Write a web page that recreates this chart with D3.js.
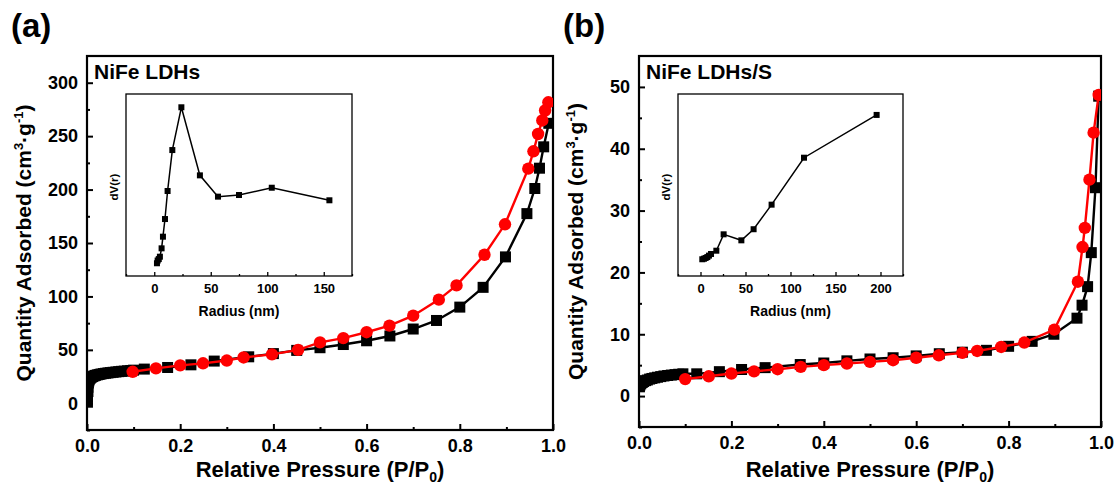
<!DOCTYPE html>
<html>
<head>
<meta charset="utf-8">
<script src="https://cdnjs.cloudflare.com/ajax/libs/d3/7.8.5/d3.min.js"></script>
<style>
  html, body { margin: 0; padding: 0; background: #fff; }
  svg text { font-family: "Liberation Sans", Arial, sans-serif; font-weight: bold; fill: #000; }
</style>
</head>
<body>
<svg id="chart" width="1120" height="486"></svg>
<script>
// ---- data ----
// panel (a) NiFe LDHs, adsorption (black squares)
const aAdsP = [0.001, 0.001, 0.002, 0.002, 0.003, 0.004, 0.005, 0.007, 0.009, 0.012, 0.015, 0.018, 0.022, 0.026, 0.03, 0.035, 0.04, 0.045, 0.05, 0.056, 0.062, 0.068, 0.074, 0.08, 0.087, 0.094, 0.1,
  0.123, 0.173, 0.223, 0.273, 0.347, 0.4, 0.45, 0.5, 0.55, 0.6, 0.65, 0.7, 0.75, 0.8, 0.85, 0.898, 0.944, 0.961, 0.971, 0.98, 0.991];
const aAdsQ = [1, 6, 11, 15, 19, 21, 22.5, 23.5, 24.3, 25, 25.6, 26.1, 26.6, 27, 27.4, 27.8, 28.1, 28.4, 28.7, 29, 29.3, 29.6, 29.9, 30.1, 30.4, 30.7, 31,
  32, 33.5, 36, 39.5, 43.5, 46.5, 49.5, 52, 55, 58.5, 63, 69.5, 77.5, 90, 108.5, 137, 177.5, 201, 220, 240, 262];
// panel (a) desorption (red circles)
const aDesP = [0.098, 0.148, 0.2, 0.249, 0.3, 0.336, 0.397, 0.453, 0.5, 0.55, 0.6, 0.649, 0.7, 0.755, 0.793, 0.853, 0.897, 0.947, 0.958, 0.968, 0.977, 0.983, 0.99];
const aDesQ = [29.5, 32.7, 35.5, 37.4, 40, 42.9, 45.8, 50, 57, 61, 66.5, 72.7, 82, 97, 110.3, 139, 167.5, 219.6, 235.8, 252, 264.7, 274, 281.7];
// panel (a) inset: pore size distribution (arbitrary units)
const aInR = [2.4, 3, 4, 5, 6.5, 7.7, 9.5, 11.8, 16, 24, 40.4, 56.4, 75, 104, 155];
const aInV = [0.07, 0.085, 0.093, 0.106, 0.152, 0.216, 0.313, 0.467, 0.692, 0.927, 0.553, 0.436, 0.445, 0.485, 0.416];

// panel (b) NiFe LDHs/S, adsorption
const bAdsP = [0.001, 0.002, 0.004, 0.007, 0.01, 0.014, 0.018, 0.023, 0.028, 0.034, 0.04, 0.047, 0.054, 0.062, 0.07, 0.078, 0.086, 0.095,
  0.125, 0.174, 0.222, 0.273, 0.349, 0.4, 0.45, 0.5, 0.55, 0.6, 0.65, 0.7, 0.752, 0.8, 0.851, 0.898, 0.948, 0.959, 0.971, 0.979, 0.988, 0.995];
const bAdsQ = [1.5, 1.8, 2.0, 2.2, 2.35, 2.5, 2.6, 2.75, 2.85, 2.95, 3.05, 3.15, 3.25, 3.33, 3.4, 3.47, 3.53, 3.6,
  3.6, 3.95, 4.3, 4.6, 5.1, 5.35, 5.7, 6.0, 6.2, 6.5, 6.85, 7.1, 7.4, 8.05, 8.85, 10.0, 12.6, 14.7, 17.7, 23.2, 33.7, 48.5];
// panel (b) desorption
const bDesP = [0.1, 0.151, 0.2, 0.249, 0.3, 0.35, 0.4, 0.45, 0.5, 0.55, 0.6, 0.649, 0.7, 0.732, 0.784, 0.834, 0.899, 0.95, 0.96, 0.965, 0.975, 0.984, 0.995];
const bDesQ = [2.75, 3.2, 3.65, 4.0, 4.35, 4.73, 5.0, 5.27, 5.53, 5.8, 6.2, 6.6, 6.99, 7.3, 7.95, 8.66, 10.75, 18.5, 24.1, 27.2, 35, 42.6, 48.7];
// panel (b) inset
const bInR = [2, 3.9, 5.7, 7.6, 9.4, 11.7, 17.6, 25.7, 45.4, 59, 79, 115, 195.7];
const bInV = [0.092, 0.095, 0.099, 0.104, 0.112, 0.121, 0.139, 0.229, 0.196, 0.257, 0.392, 0.65, 0.885];

// ticks
const pTicks = [0, 0.2, 0.4, 0.6, 0.8, 1.0];
const pMinor = [0.1, 0.3, 0.5, 0.7, 0.9];
const aQTicks = [0, 50, 100, 150, 200, 250, 300];
const aQMinor = [-25, 25, 75, 125, 175, 225, 275];
const bQTicks = [0, 10, 20, 30, 40, 50];
const bQMinor = [-5, 5, 15, 25, 35, 45];
const aRTicks = [0, 50, 100, 150];
const aRMinor = [-25, 25, 75, 125, 175];
const bRTicks = [0, 50, 100, 150, 200];
const bRMinor = [-25, 25, 75, 125, 175, 225];

const svg = d3.select("#chart");
svg.append("rect").attr("width", 1120).attr("height", 486).attr("fill", "#fff");

function zip(xs, ys) { return xs.map((x, i) => ({ x: x, y: ys[i] })); }

function drawPanel(o) {
  const g = svg.append("g");
  const x = d3.scaleLinear().domain([0, 1]).range([o.x0, o.x1]);
  const y = d3.scaleLinear().domain(o.yDom).range([o.y1, o.y0]);

  // axes (inward ticks)
  g.append("g").attr("transform", `translate(0,${o.y1})`)
    .call(d3.axisBottom(x).tickValues(pTicks).tickSize(-6).tickPadding(9).tickFormat(d3.format(".1f")))
    .call(a => a.selectAll("text").attr("font-size", 18).attr("font-family", null))
    .call(a => a.select(".domain").remove());
  g.append("g").attr("transform", `translate(0,${o.y1})`)
    .call(d3.axisBottom(x).tickValues(pMinor).tickSize(-3).tickFormat(""))
    .call(a => a.select(".domain").remove());
  g.append("g").attr("transform", `translate(${o.x0},0)`)
    .call(d3.axisLeft(y).tickValues(o.yTicks).tickSize(-6).tickPadding(9))
    .call(a => a.selectAll("text").attr("font-size", 18).attr("font-family", null))
    .call(a => a.select(".domain").remove());
  g.append("g").attr("transform", `translate(${o.x0},0)`)
    .call(d3.axisLeft(y).tickValues(o.yMinor).tickSize(-3).tickFormat(""))
    .call(a => a.select(".domain").remove());
  g.selectAll(".tick line").attr("stroke", "#000").attr("stroke-width", 2);

  g.append("rect").attr("x", o.x0).attr("y", o.y0)
    .attr("width", o.x1 - o.x0).attr("height", o.y1 - o.y0)
    .attr("fill", "none").attr("stroke", "#000").attr("stroke-width", 2.2);

  // panel letter and sample name
  svg.append("text").attr("x", o.x0 - 76).attr("y", 37).attr("font-size", 33).text(o.letter);
  svg.append("text").attr("x", o.x0 + 7).attr("y", 79).attr("font-size", 21).text(o.name);

  // axis titles
  const xt = svg.append("text").attr("x", (o.x0 + o.x1) / 2).attr("y", 477)
    .attr("text-anchor", "middle").attr("font-size", 22);
  xt.append("tspan").text("Relative Pressure (P/P");
  xt.append("tspan").attr("font-size", 14).attr("dy", 5).text("0");
  xt.append("tspan").attr("dy", -5).text(")");

  const yt = svg.append("text").attr("transform", `translate(${o.x0 - 56},${(o.y0 + o.y1) / 2}) rotate(-90)`)
    .attr("text-anchor", "middle").attr("font-size", 21);
  yt.append("tspan").text("Quantity Adsorbed (cm");
  yt.append("tspan").attr("font-size", 13).attr("dy", -8).text("3");
  yt.append("tspan").attr("dy", 8).text("\u00b7g");
  yt.append("tspan").attr("font-size", 13).attr("dy", -8).text("-1");
  yt.append("tspan").attr("dy", 8).text(")");

  const clip = "clip-" + o.letter.replace(/\W/g, "");
  svg.append("clipPath").attr("id", clip).append("rect")
    .attr("x", o.x0).attr("y", o.y0).attr("width", o.x1 - o.x0).attr("height", o.y1 - o.y0);
  const plot = svg.append("g").attr("clip-path", `url(#${clip})`);
  const line = d3.line().x(d => x(d.x)).y(d => y(d.y));

  const ads = zip(o.adsP, o.adsQ), des = zip(o.desP, o.desQ);
  plot.append("path").datum(ads).attr("d", line).attr("fill", "none").attr("stroke", "#000").attr("stroke-width", 2.4);
  plot.selectAll("rect.ads").data(ads).enter().append("rect").attr("class", "ads")
    .attr("x", d => x(d.x) - 5.5).attr("y", d => y(d.y) - 5.5).attr("width", 11).attr("height", 11).attr("fill", "#000");
  plot.append("path").datum(des).attr("d", line).attr("fill", "none").attr("stroke", "#f00").attr("stroke-width", 2.4);
  plot.selectAll("circle.des").data(des).enter().append("circle").attr("class", "des")
    .attr("cx", d => x(d.x)).attr("cy", d => y(d.y)).attr("r", 6.2).attr("fill", "#f00");
}

function drawInset(o) {
  const g = svg.append("g");
  const x = d3.scaleLinear().domain(o.rDom).range([o.x0, o.x1]);
  const y = d3.scaleLinear().domain([0, 1]).range([o.y1, o.y0]);
  g.append("rect").attr("x", o.x0).attr("y", o.y0).attr("width", o.x1 - o.x0).attr("height", o.y1 - o.y0)
    .attr("fill", "#fff").attr("stroke", "#000").attr("stroke-width", 1.3);
  g.append("g").attr("transform", `translate(0,${o.y1})`)
    .call(d3.axisBottom(x).tickValues(o.ticks).tickSize(-4).tickPadding(8))
    .call(a => a.selectAll("text").attr("font-size", 13).attr("font-family", null))
    .call(a => a.select(".domain").remove());
  g.append("g").attr("transform", `translate(0,${o.y1})`)
    .call(d3.axisBottom(x).tickValues(o.minor).tickSize(-2).tickFormat(""))
    .call(a => a.select(".domain").remove());
  g.selectAll(".tick line").attr("stroke", "#000").attr("stroke-width", 1.3);
  g.append("text").attr("x", (o.x0 + o.x1) / 2).attr("y", o.y1 + 40).attr("text-anchor", "middle")
    .attr("font-size", 14).text("Radius (nm)");
  g.append("text").attr("transform", `translate(${o.x0 - 8},${(o.y0 + o.y1) / 2 + 2}) rotate(-90)`)
    .attr("text-anchor", "middle").attr("font-size", 11.5).text("dV(r)");
  const pts = zip(o.r, o.v);
  g.append("path").datum(pts).attr("d", d3.line().x(d => x(d.x)).y(d => y(d.y)))
    .attr("fill", "none").attr("stroke", "#000").attr("stroke-width", 1.5);
  g.selectAll("rect.pt").data(pts).enter().append("rect").attr("class", "pt")
    .attr("x", d => x(d.x) - 3).attr("y", d => y(d.y) - 3).attr("width", 6).attr("height", 6).attr("fill", "#000");
}

drawPanel({ letter: "(a)", name: "NiFe LDHs", x0: 87, x1: 553, y0: 56, y1: 430, yDom: [-25, 325],
  yTicks: aQTicks, yMinor: aQMinor, adsP: aAdsP, adsQ: aAdsQ, desP: aDesP, desQ: aDesQ });
drawPanel({ letter: "(b)", name: "NiFe LDHs/S", x0: 639, x1: 1101, y0: 56, y1: 427, yDom: [-5, 55],
  yTicks: bQTicks, yMinor: bQMinor, adsP: bAdsP, adsQ: bAdsQ, desP: bDesP, desQ: bDesQ });
drawInset({ x0: 126, x1: 352, y0: 94, y1: 276, rDom: [-25, 175], ticks: aRTicks, minor: aRMinor, r: aInR, v: aInV });
drawInset({ x0: 678, x1: 903, y0: 94, y1: 276, rDom: [-25, 225], ticks: bRTicks, minor: bRMinor, r: bInR, v: bInV });
</script>
</body>
</html>
